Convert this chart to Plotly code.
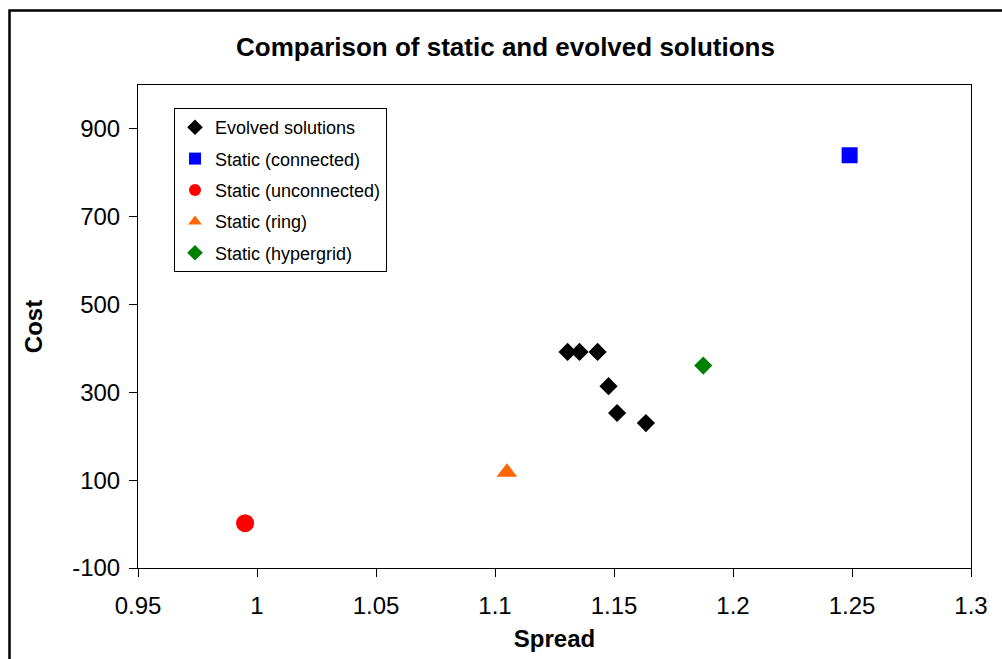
import plotly.graph_objects as go

# Data
evolved_spread = [1.1305, 1.1355, 1.1431, 1.1477, 1.1513, 1.1634]
evolved_cost = [392, 392, 392, 314, 253, 230]
connected_spread = [1.249]
connected_cost = [840]
unconnected_spread = [0.995]
unconnected_cost = [2]
ring_spread = [1.105]
ring_cost = [118]
hypergrid_spread = [1.1875]
hypergrid_cost = [361]

x_ticks = [0.95, 1, 1.05, 1.1, 1.15, 1.2, 1.25, 1.3]
x_tick_labels = ["0.95", "1", "1.05", "1.1", "1.15", "1.2", "1.25", "1.3"]
y_ticks = [-100, 100, 300, 500, 700, 900]
y_tick_labels = ["-100", "100", "300", "500", "700", "900"]

FONT = "Liberation Sans, Arial, sans-serif"

fig = go.Figure()
series = [
    ("Evolved solutions", evolved_spread, evolved_cost, "diamond", "#000000", 14),
    ("Static (connected)", connected_spread, connected_cost, "square", "#0000FF", 16),
    ("Static (unconnected)", unconnected_spread, unconnected_cost, "circle", "#FF0000", 18),
    ("Static (ring)", ring_spread, ring_cost, "triangle-up", "#FF6600", 18),
    ("Static (hypergrid)", hypergrid_spread, hypergrid_cost, "diamond", "#008000", 14),
]
for i, (name, xs, ys, sym, col, sz) in enumerate(series):
    fig.add_trace(go.Scatter(
        x=xs, y=ys, mode="markers", name=name, legendgroup=f"g{i}",
        marker=dict(symbol=sym, color=col, size=sz, line=dict(width=0)),
    ))

fig.update_layout(
    width=1002, height=659,
    margin=dict(l=138, r=31, t=85, b=91),
    paper_bgcolor="white", plot_bgcolor="white",
    font=dict(family=FONT, color="black"),
    title=dict(text="<b>Comparison of static and evolved solutions</b>",
               x=505.5 / 1002, xanchor="center", y=1 - 47 / 659, yanchor="middle",
               font=dict(size=26, family=FONT, color="black")),
    showlegend=True,
    legend=dict(
        x=(174 - 138) / 833, y=(568 - 108) / 483, xanchor="left", yanchor="top",
        bordercolor="black", borderwidth=1, bgcolor="white",
        font=dict(size=18, family=FONT, color="black"),
        itemsizing="constant", traceorder="grouped", tracegroupgap=5,
    ),
    xaxis=dict(
        range=[0.95, 1.3], tickmode="array", tickvals=x_ticks, ticktext=x_tick_labels,
        ticks="outside", ticklen=8, tickcolor="black", tickwidth=1,
        ticklabelstandoff=8,
        showline=True, linecolor="black", linewidth=1, mirror=True,
        showgrid=False, zeroline=False,
        tickfont=dict(size=24, family=FONT, color="black"),
        title=dict(text="<b>Spread</b>", font=dict(size=24, family=FONT, color="black"), standoff=12),
    ),
    yaxis=dict(
        range=[-100, 1000], tickmode="array", tickvals=y_ticks, ticktext=y_tick_labels,
        ticks="outside", ticklen=8, tickcolor="black", tickwidth=1,
        ticklabelstandoff=4,
        showline=True, linecolor="black", linewidth=1, mirror=True,
        showgrid=False, zeroline=False,
        tickfont=dict(size=24, family=FONT, color="black"),
        title=dict(text="<b>Cost</b>", font=dict(size=24, family=FONT, color="black"), standoff=22),
    ),
)

# Outer chart border
fig.add_shape(type="rect", xref="paper", yref="paper",
              x0=(9.5 - 138) / 833, x1=1.2, y0=-0.4, y1=(568 - 10.5) / 483,
              line=dict(color="black", width=2.5), fillcolor="rgba(0,0,0,0)", layer="above")

fig.write_html("out.html")
